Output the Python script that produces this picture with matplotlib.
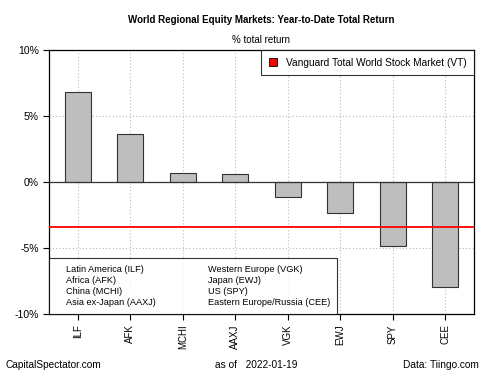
import numpy as np
import matplotlib
matplotlib.use("Agg")
import matplotlib.pyplot as plt
from matplotlib.patches import Patch

plt.rcParams['font.family'] = ['Liberation Sans', 'DejaVu Sans']

# ------------------------------
# Data
# ------------------------------
tickers = ["ILF", "AFK", "MCHI", "AAXJ", "VGK", "EWJ", "SPY", "CEE"]
returns = [6.8, 3.65, 0.7, 0.6, -1.1, -2.35, -4.85, -7.95]
vt_return = -3.4
names = ["Latin America (ILF)", "Africa (AFK)", "China (MCHI)", "Asia ex-Japan (AAXJ)",
         "Western Europe (VGK)", "Japan (EWJ)", "US (SPY)", "Eastern Europe/Russia (CEE)"]
yticks = [10, 5, 0, -5, -10]

fig = plt.figure(figsize=(5, 3.75), dpi=100)
ax = fig.add_axes([0.098, 0.1627, 0.85, 0.704])

x = np.arange(len(tickers))
ax.set_xlim(-0.55, len(tickers) - 0.45)
ax.set_ylim(-10, 10)

# grid
for xi in x:
    ax.axvline(xi, color="#bbbbbb", ls=(0, (1, 2)), lw=0.8, zorder=0)
for yv in yticks:
    ax.axhline(yv, color="#bbbbbb", ls=(0, (1, 2)), lw=0.8, zorder=0)

ax.bar(x, returns, width=0.5, color="#bebebe", edgecolor="#333333", lw=0.8, zorder=2)
ax.axhline(0, color="#333333", lw=0.9, zorder=3)
ax.axhline(vt_return, color="red", lw=1.3, zorder=4)

ax.set_xticks(x)
ax.set_xticklabels(tickers, rotation=90, fontsize=7)
ax.set_yticks(yticks)
ax.set_yticklabels([f"{v}%" for v in yticks], fontsize=7.5)
ax.tick_params(length=4, width=0.8)
for s in ax.spines.values():
    s.set_linewidth(0.9)

# legend top-right
leg = ax.legend(handles=[Patch(facecolor="red", edgecolor="black", lw=0.6)],
                labels=["Vanguard Total World Stock Market (VT)"],
                loc="upper right", fontsize=7.3, frameon=True, fancybox=False,
                borderaxespad=0, handlelength=0.8, handleheight=0.8,
                borderpad=0.75, handletextpad=0.9)
leg.get_frame().set_edgecolor("black")
leg.get_frame().set_linewidth(0.8)
leg.set_zorder(5)

# name legend bottom-left
h_empty = [Patch(alpha=0) for _ in names]
leg2 = ax.legend(handles=h_empty, labels=names, loc="lower left", ncol=2,
                 fontsize=6.6, frameon=True, fancybox=False, borderaxespad=0,
                 handlelength=0.9, handletextpad=0.2, columnspacing=4.6,
                 labelspacing=0.22, borderpad=0.75)
leg2.get_frame().set_edgecolor("black")
leg2.get_frame().set_linewidth(0.8)
ax.add_artist(leg)

fig.text(0.523, 0.947, "World Regional Equity Markets: Year-to-Date Total Return",
         ha="center", va="center", fontsize=7, fontweight="bold")
fig.text(0.523, 0.893, "% total return", ha="center", va="center", fontsize=7)
fig.text(0.012, 0.027, "CapitalSpectator.com", ha="left", va="center", fontsize=7.3)
fig.text(0.43, 0.027, "as of   2022-01-19", ha="left", va="center", fontsize=7.3)
fig.text(0.958, 0.027, "Data: Tiingo.com", ha="right", va="center", fontsize=7.3)

fig.savefig("out.png", dpi=100)
